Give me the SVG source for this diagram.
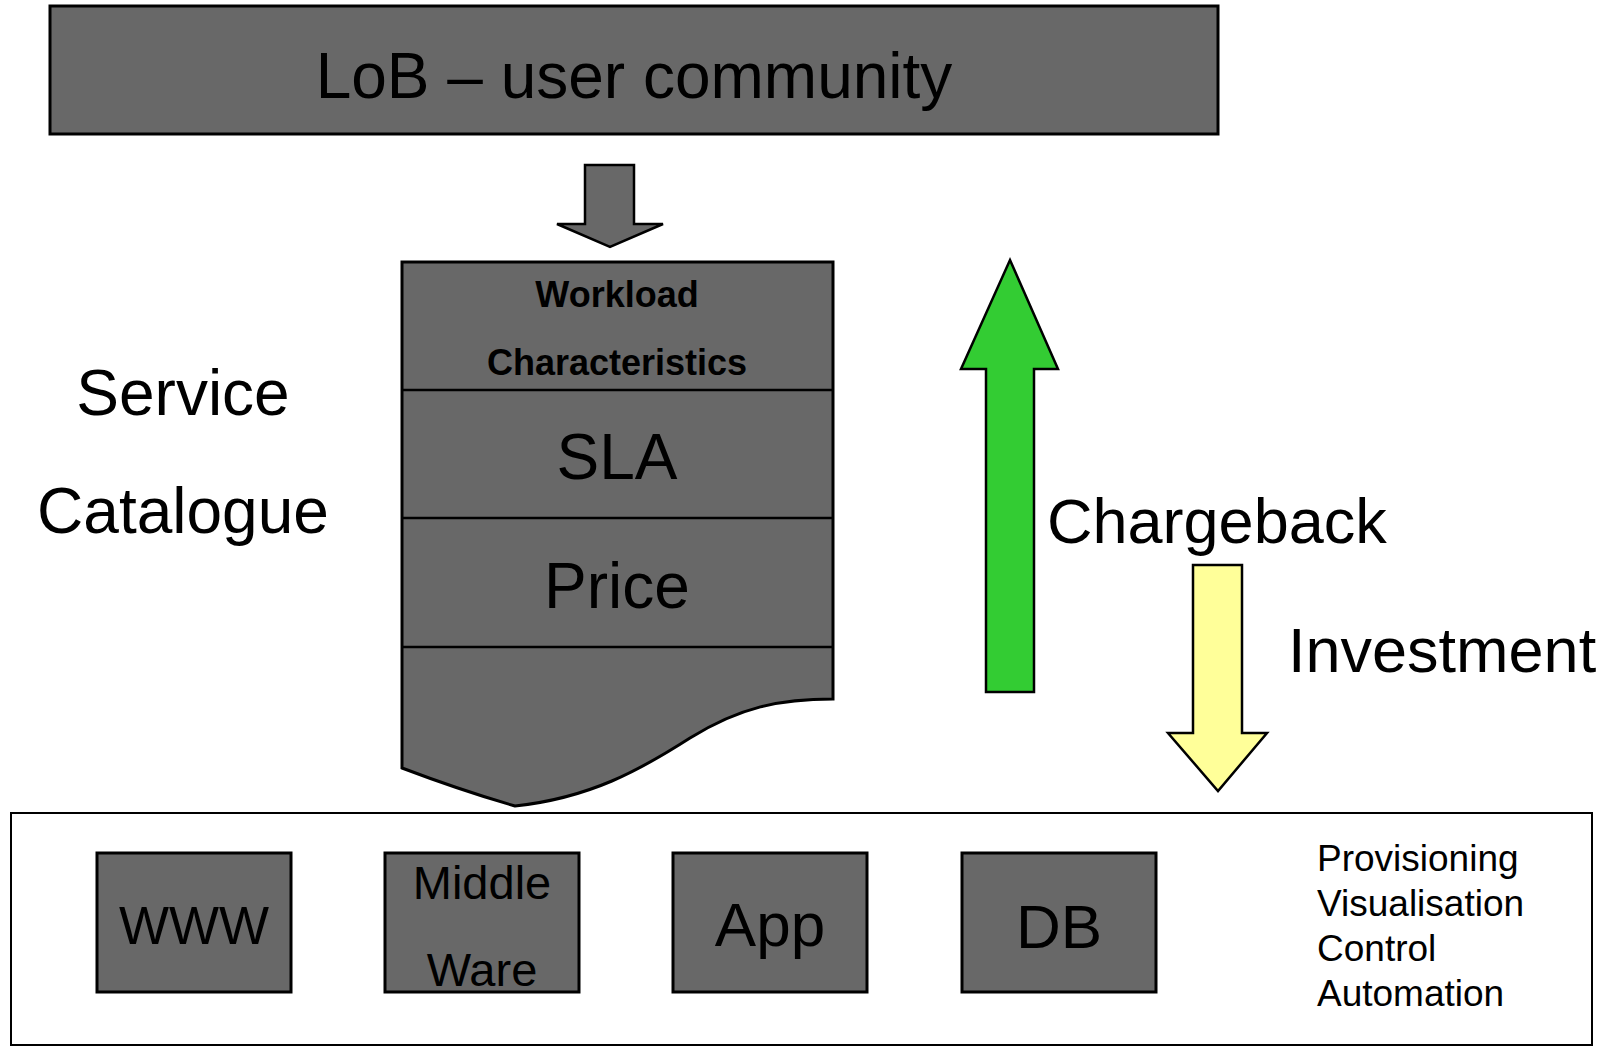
<svg xmlns="http://www.w3.org/2000/svg" width="1616" height="1046" viewBox="0 0 1616 1046">
<style>
.box{fill:#686868;stroke:#000;stroke-width:3}
.t{font-family:"Liberation Sans",Arial,sans-serif;fill:#000}
.c{text-anchor:middle}
.arr{stroke:#000;stroke-width:2.5;stroke-linejoin:miter}
</style>
<rect width="1616" height="1046" fill="#fff"/>
<g id="lob">
<rect class="box" x="50" y="6" width="1168" height="128"/>
<text class="t c" x="634" y="98" font-size="64">LoB – user community</text>
</g>
<g id="service-catalogue-label">
<text class="t c" x="183" y="415" font-size="64">Service</text>
<text class="t c" x="183" y="533" font-size="64">Catalogue</text>
</g>
<g id="catalogue-doc">
<path class="box" d="M402,262 H833 V699 C780,699 740,707 690,738 C640,770 590,798 515,806 Q460,790 402,768 Z"/>
<line x1="402" y1="390" x2="833" y2="390" stroke="#000" stroke-width="2.5"/>
<line x1="402" y1="518" x2="833" y2="518" stroke="#000" stroke-width="2.5"/>
<line x1="402" y1="647" x2="833" y2="647" stroke="#000" stroke-width="2.5"/>
<text class="t c" x="617" y="307" font-size="36" font-weight="bold">Workload</text>
<text class="t c" x="617" y="375" font-size="36" font-weight="bold">Characteristics</text>
<text class="t c" x="617" y="479" font-size="64">SLA</text>
<text class="t c" x="617" y="608" font-size="64">Price</text>
</g>
<g id="connectors">
<path class="arr" fill="#686868" d="M585,165 H634 V224 H663 L610,247 L557,224 H585 Z"/>
<path class="arr" fill="#33CC33" d="M1010,260 L1058,369 H1034 V692 H986 V369 H961 Z"/>
<path class="arr" fill="#FFFF99" d="M1193,565 H1242 V733 H1267 L1218,791 L1168,733 H1193 Z"/>
</g>
<g id="chargeback-label"><text class="t" x="1047" y="543" font-size="63">Chargeback</text></g>
<g id="investment-label"><text class="t" x="1288" y="672" font-size="63">Investment</text></g>
<g id="infrastructure">
<rect x="11" y="813" width="1581" height="232" fill="#fff" stroke="#000" stroke-width="2"/>
</g>
<g id="www">
<rect class="box" x="97" y="853" width="194" height="139"/>
<text class="t c" x="194" y="944" font-size="53">WWW</text>
</g>
<g id="middleware">
<rect class="box" x="385" y="853" width="194" height="139"/>
<text class="t c" x="482" y="899" font-size="47">Middle</text>
<text class="t c" x="482" y="986" font-size="47">Ware</text>
</g>
<g id="app">
<rect class="box" x="673" y="853" width="194" height="139"/>
<text class="t c" x="770" y="946" font-size="62">App</text>
</g>
<g id="db">
<rect class="box" x="962" y="853" width="194" height="139"/>
<text class="t c" x="1059" y="948" font-size="62">DB</text>
</g>
<g id="services-list">
<text class="t" x="1317" y="871" font-size="37">Provisioning</text>
<text class="t" x="1317" y="916" font-size="37">Visualisation</text>
<text class="t" x="1317" y="961" font-size="37">Control</text>
<text class="t" x="1317" y="1006" font-size="37">Automation</text>
</g>
</svg>
